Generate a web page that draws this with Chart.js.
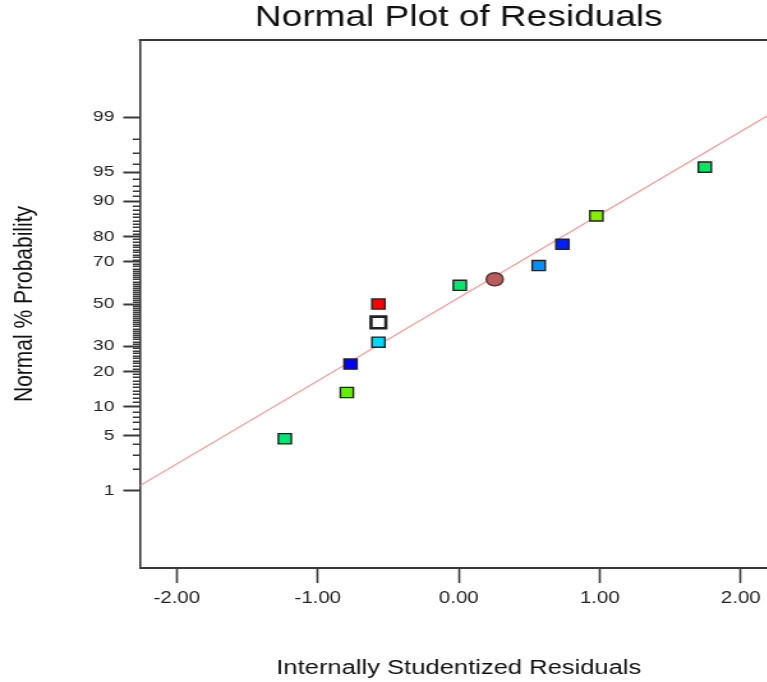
<!DOCTYPE html>
<html lang="en">
<head>
  <meta charset="UTF-8">
  <title>Normal Plot of Residuals</title>
  <script src="https://cdn.jsdelivr.net/npm/chart.js"></script>
  <style>
    body { margin: 0; background: #fff; }
    #wrap { width: 767px; height: 682px; overflow: hidden; }
    /* the reference is a horizontally stretched picture, so stretch the canvas the same way */
    #plot { width: 792px !important; height: 682px !important; display: block; }
  </style>
</head>
<body>
  <div id="wrap"><canvas id="plot" width="620" height="682"></canvas></div>
  <script>
    // residuals (x) and their normal % probability (y)
    const residuals = [-1.234, -0.794, -0.768, -0.570, -0.570, -0.570, 0.007, 0.255, 0.567, 0.735, 0.976, 1.745];
    const probPct   = [4.66, 13.5, 22.7, 31.7, 40.9, 50.0, 59.2, 62.1, 68.4, 77.2, 86.4, 95.6];
    const pointColors = ['#00e676', '#66ee00', '#0000ff', '#00d8ff', '#ffffff', '#ff0000',
                         '#00e870', '#b85c5c', '#0090ff', '#0020ff', '#88ee00', '#00e860'];

    // reference line
    const fitX   = [-2.262, 2.262];
    const fitPct = [1.18, 99.23];

    const xTicks = [-2, -1, 0, 1, 2];
    const yMajorPct = [1, 5, 10, 20, 30, 50, 70, 80, 90, 95, 99];
    const yMinorPct = [];
    for (let p = 1; p <= 99; p++) if (!yMajorPct.includes(p)) yMinorPct.push(p);

    // inverse normal cdf (Acklam)
    function probit(p) {
      const a = [-3.969683028665376e+01, 2.209460984245205e+02, -2.759285104469687e+02, 1.383577518672690e+02, -3.066479806614716e+01, 2.506628277459239e+00];
      const b = [-5.447609879822406e+01, 1.615858368580409e+02, -1.556989798598866e+02, 6.680131188771972e+01, -1.328068155288572e+01];
      const c = [-7.784894002430293e-03, -3.223964580411365e-01, -2.400758277161838e+00, -2.549732539343734e+00, 4.374664141464968e+00, 2.938163982698783e+00];
      const d = [7.784695709041462e-03, 3.224671290700398e-01, 2.445134137142996e+00, 3.754408661907416e+00];
      const lo = 0.02425, hi = 1 - lo;
      let q, r;
      if (p < lo) {
        q = Math.sqrt(-2 * Math.log(p));
        return (((((c[0]*q+c[1])*q+c[2])*q+c[3])*q+c[4])*q+c[5]) / ((((d[0]*q+d[1])*q+d[2])*q+d[3])*q+1);
      }
      if (p <= hi) {
        q = p - 0.5; r = q * q;
        return (((((a[0]*r+a[1])*r+a[2])*r+a[3])*r+a[4])*r+a[5])*q / (((((b[0]*r+b[1])*r+b[2])*r+b[3])*r+b[4])*r+1);
      }
      q = Math.sqrt(-2 * Math.log(1 - p));
      return -(((((c[0]*q+c[1])*q+c[2])*q+c[3])*q+c[4])*q+c[5]) / ((((d[0]*q+d[1])*q+d[2])*q+d[3])*q+1);
    }
    const z = pct => probit(pct / 100);

    const axisColor = '#3a3a3a';
    const font = 'Liberation Sans, Arial, sans-serif';

    const framePlugin = {
      id: 'frame',
      afterDraw(chart) {
        const {ctx, chartArea} = chart;
        const y = chart.scales.y;
        ctx.save();
        ctx.strokeStyle = axisColor;
        // top edge of the plot box
        ctx.lineWidth = 2;
        ctx.beginPath();
        ctx.moveTo(chartArea.left - 0.8, chartArea.top);
        ctx.lineTo(chartArea.right, chartArea.top);
        ctx.stroke();
        // minor ticks on the probability axis
        ctx.lineWidth = 1.5;
        ctx.beginPath();
        yMinorPct.forEach(p => {
          const py = Math.round(y.getPixelForValue(z(p))) + 0.25;
          ctx.moveTo(chartArea.left - 5.5, py);
          ctx.lineTo(chartArea.left, py);
        });
        ctx.stroke();
        ctx.restore();
      }
    };

    new Chart(document.getElementById('plot'), {
      type: 'scatter',
      data: {
        datasets: [{
          data: residuals.map((x, i) => ({x: x, y: z(probPct[i])})),
          pointStyle: residuals.map((x, i) => i === 7 ? 'circle' : 'rect'),
          pointRadius: residuals.map((x, i) => i === 4 ? 8.2 : (i === 7 ? 6.6 : 7.2)),
          pointBorderWidth: residuals.map((x, i) => i === 4 ? 2.6 : 1.4),
          pointBackgroundColor: pointColors,
          pointBorderColor: residuals.map((x, i) => i === 7 ? '#553030' : '#222'),
          order: 1
        }, {
          data: fitX.map((x, i) => ({x: x, y: z(fitPct[i])})),
          showLine: true,
          pointRadius: 0,
          borderColor: '#ff8a8a',
          borderWidth: 1.1,
          order: 2
        }]
      },
      options: {
        responsive: false,
        animation: false,
        events: [],
        layout: { padding: { left: 0, right: 11.2, top: 0, bottom: 0 } },
        plugins: {
          legend: { display: false },
          tooltip: { enabled: false },
          title: {
            display: true,
            text: 'Normal Plot of Residuals',
            fullSize: false,
            color: '#111',
            font: { family: font, size: 29, weight: 'normal' },
            padding: { top: 1, bottom: 4.2 }
          }
        },
        scales: {
          x: {
            type: 'linear',
            min: fitX[0],
            max: fitX[1],
            afterFit: s => { s.height = 114; },
            afterBuildTicks: s => { s.ticks = xTicks.map(v => ({value: v})); },
            border: { display: true, color: axisColor, width: 2 },
            grid: { drawOnChartArea: false, drawTicks: true, tickLength: 15, tickWidth: 1.6, tickColor: axisColor },
            ticks: {
              color: '#222',
              font: { family: font, size: 16 },
              padding: 6,
              maxRotation: 0,
              callback: v => v.toFixed(2)
            },
            title: {
              display: true,
              text: 'Internally Studentized Residuals',
              color: '#111',
              font: { family: font, size: 20 },
              padding: { top: 0, bottom: 2 }
            }
          },
          y: {
            type: 'linear',
            min: z(0.05),
            max: z(99.95),
            afterFit: s => { s.width = 109.5; },
            afterBuildTicks: s => { s.ticks = yMajorPct.map(p => ({value: z(p)})); },
            border: { display: true, color: axisColor, width: 1.6 },
            grid: { drawOnChartArea: false, drawTicks: true, tickLength: 13, tickWidth: 2, tickColor: axisColor },
            ticks: {
              color: '#222',
              font: { family: font, size: 15 },
              padding: 7,
              autoSkip: false,
              callback: (v, i) => String(yMajorPct[i])
            },
            title: {
              display: true,
              text: 'Normal % Probability',
              color: '#111',
              font: { family: font, size: 21 },
              padding: { top: 7, bottom: 0 }
            }
          }
        }
      },
      plugins: [framePlugin]
    });
  </script>
</body>
</html>
